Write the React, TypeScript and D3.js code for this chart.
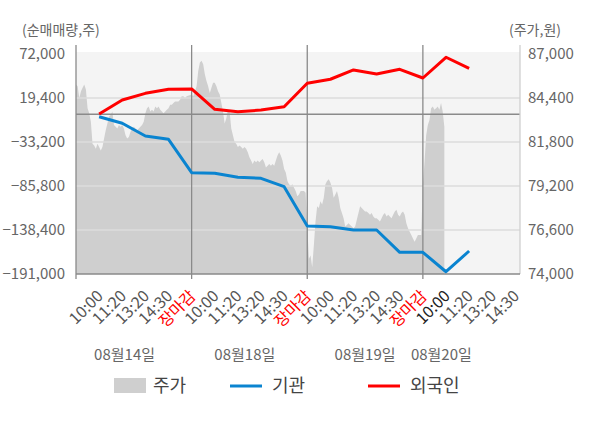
import React from "react";
import * as d3 from "d3";

// ---- data ----
const dayLabels = ["08월14일", "08월18일", "08월19일", "08월20일"];
const dayLabelPos = [2.1, 7.3, 12.5, 15.8];
const slotLabels = ["10:00", "11:20", "13:20", "14:30", "장마감"];
const leftTicks = [72000, 19400, -33200, -85800, -138400, -191000];
const rightTicks = [87000, 84400, 81800, 79200, 76600, 74000];

// 주가 (per-day sampled prices)
const priceDay1 = [85200, 85100, 84400, 84800, 85000, 85200, 84900, 83800, 83500, 83000, 81700, 81600, 81400, 81700, 81500, 81300, 81500, 82000, 82500, 82900, 83300, 83400, 83600, 82800, 82700, 82600, 82800, 82700, 82800, 82600, 82200, 82000, 82100, 82400, 82600, 82700, 82600, 82500, 82600, 82700, 82800, 83000, 83500, 83800, 83900, 83600, 83700, 83600, 83900, 83800, 83900, 83700, 83600, 83500, 83600, 83700, 83800, 84000, 84000, 84100, 84200, 84200, 84200, 84300, 84500, 84500, 84400, 84500];
const priceDay2 = [84600, 84500, 84800, 85100, 86000, 86500, 86600, 86400, 85800, 85400, 85100, 84700, 85000, 85300, 85300, 85100, 84800, 84600, 84100, 83600, 82900, 83200, 83700, 83600, 82600, 82200, 81800, 81700, 81500, 81600, 81500, 81400, 81500, 81400, 81200, 80900, 80700, 80500, 80700, 80600, 80700, 80600, 80700, 80800, 80600, 80300, 80400, 80500, 80400, 80500, 80400, 80700, 81000, 81200, 81000, 80700, 80200, 80000, 79500, 79300, 79200, 79300, 79100, 78900, 78600, 78700, 78900, 78900, 78900, 78800];
const priceDay3 = [76800, 74900, 75100, 74400, 75700, 77100, 78000, 77900, 78300, 78100, 78500, 79300, 79500, 79600, 79400, 79100, 78500, 78700, 78900, 78500, 77900, 77600, 77300, 76800, 76900, 77000, 76900, 76800, 76700, 76800, 77200, 77600, 78000, 77900, 77800, 77700, 77700, 77600, 77500, 77600, 77400, 77300, 77300, 77200, 77100, 77300, 77500, 77600, 77400, 77500, 77400, 77300, 77500, 77700, 77800, 77500, 77400, 77600, 77700, 77500, 77000, 76700, 76500, 76300, 76100, 75900, 76100, 76300, 76300, 76300];
const priceDay4 = [79300, 80600, 82200, 82800, 83100, 83800, 83900, 83700, 83800, 83900, 83700, 84100, 83600, 82700];
const priceDays = [priceDay1, priceDay2, priceDay3, priceDay4];
const samplesPerDay = 70;

// 기관 / 외국인 net volume at each slot (day*5 + slot)
const institution = [-3000, -10800, -26000, -30000, -69900, -70600, -75400, -76600, -86600, -133600, -134500, -138400, -138400, -165100, -165100, -188300, -163500];
const foreigner = [200, 17000, 25000, 29800, 30200, 5900, 3000, 5000, 9000, 37000, 41800, 52900, 48100, 53700, 43300, 68100, 54900];

const W = 600;
const H = 428;
const FONT = "'Noto Sans CJK KR', 'Noto Sans', sans-serif";

export default function App() {
  const x = d3.scaleLinear().domain([0, 19.2]).range([76, 520]);
  const yL = d3.scaleLinear().domain([-191000, 72000]).range([274, 54]);
  const yR = d3.scaleLinear().domain([74000, 87000]).range([274, 54]);
  const fmt = d3.format(",");

  const pricePts: [number, number][] = [];
  priceDays.forEach((arr, d) => {
    arr.forEach((p, i) => pricePts.push([d * 5 + (i * 5) / samplesPerDay, p]));
  });
  const area = d3
    .area<[number, number]>()
    .x((p) => x(p[0]))
    .y0(yR(74000))
    .y1((p) => yR(p[1]));

  const line = d3
    .line<number>()
    .x((_, i) => x(i + 1))
    .y((v) => yL(v));

  const xLabels: { v: number; t: string; color: string }[] = [];
  for (let d = 0; d < 4; d++) {
    for (let s = 0; s < 5; s++) {
      if (d === 3 && s === 4) continue;
      const t = slotLabels[s];
      let color = "#555";
      if (t === "장마감") color = "#ff0000";
      if (d === 3 && s === 0) color = "#222";
      xLabels.push({ v: d * 5 + s + 1, t, color });
    }
  }
  const dividers = [5, 10, 15];

  return (
    <svg
      width={W}
      height={H}
      style={{ position: "absolute", left: 0, top: 0, background: "#fff" }}
      fontFamily={FONT}
    >
      <rect x={x(0)} y={52} width={x(19.2) - x(0)} height={274 - 52} fill="#f4f4f4" />
      <path d={area(pricePts) || ""} fill="#cfcfcf" />
      {leftTicks.slice(1, -1).map((t) => (
        <line key={t} x1={x(0)} x2={x(19.2)} y1={yL(t)} y2={yL(t)} stroke="#dcdcdc" strokeWidth={1.3} />
      ))}
      <line x1={x(0)} x2={x(19.2)} y1={yL(0)} y2={yL(0)} stroke="#8a8a8a" strokeWidth={1.3} />
      {dividers.map((d) => (
        <line key={d} x1={x(d)} x2={x(d)} y1={45} y2={279} stroke="#8a8a8a" strokeWidth={1.3} />
      ))}
      <line x1={x(0)} x2={x(0)} y1={45} y2={279} stroke="#8a8a8a" strokeWidth={1.3} />
      <line x1={x(19.2)} x2={x(19.2)} y1={45} y2={274} stroke="#d0d0d0" strokeWidth={1.3} />
      <line x1={x(0)} x2={x(19.2)} y1={274} y2={274} stroke="#8a8a8a" strokeWidth={1.3} />

      <path d={line(institution) || ""} fill="none" stroke="#0a84d0" strokeWidth={3} strokeLinejoin="round" />
      <path d={line(foreigner) || ""} fill="none" stroke="#ff0000" strokeWidth={3} strokeLinejoin="round" />

      {leftTicks.map((t) => (
        <text key={t} x={65} y={yL(t)} dy="0.35em" textAnchor="end" fontSize={15} fill="#666">
          {fmt(t)}
        </text>
      ))}
      {rightTicks.map((t) => (
        <text key={t} x={528} y={yR(t)} dy="0.35em" textAnchor="start" fontSize={15} fill="#666">
          {fmt(t)}
        </text>
      ))}
      <text x={22} y={35} fontSize={14} fill="#666">(순매매량,주)</text>
      <text x={509} y={35} fontSize={14} fill="#666">(주가,원)</text>

      {xLabels.map((l, i) => (
        <text
          key={i}
          transform={`translate(${x(l.v) + 5},${297}) rotate(-45)`}
          textAnchor="end"
          fontSize={16}
          fill={l.color}
        >
          {l.t}
        </text>
      ))}
      {dayLabels.map((t, i) => (
        <text key={t} x={x(dayLabelPos[i])} y={355} dy="0.35em" textAnchor="middle" fontSize={15} fill="#666">
          {t}
        </text>
      ))}

      <rect x={114} y={378} width={32} height={15} fill="#cfcfcf" />
      <text x={153} y={386} dy="0.35em" fontSize={18} fill="#444">주가</text>
      <line x1={230} x2={262} y1={386} y2={386} stroke="#0a84d0" strokeWidth={3} />
      <text x={272} y={386} dy="0.35em" fontSize={18} fill="#444">기관</text>
      <line x1={368} x2={400} y1={386} y2={386} stroke="#ff0000" strokeWidth={3} />
      <text x={410} y={386} dy="0.35em" fontSize={18} fill="#444">외국인</text>
    </svg>
  );
}
